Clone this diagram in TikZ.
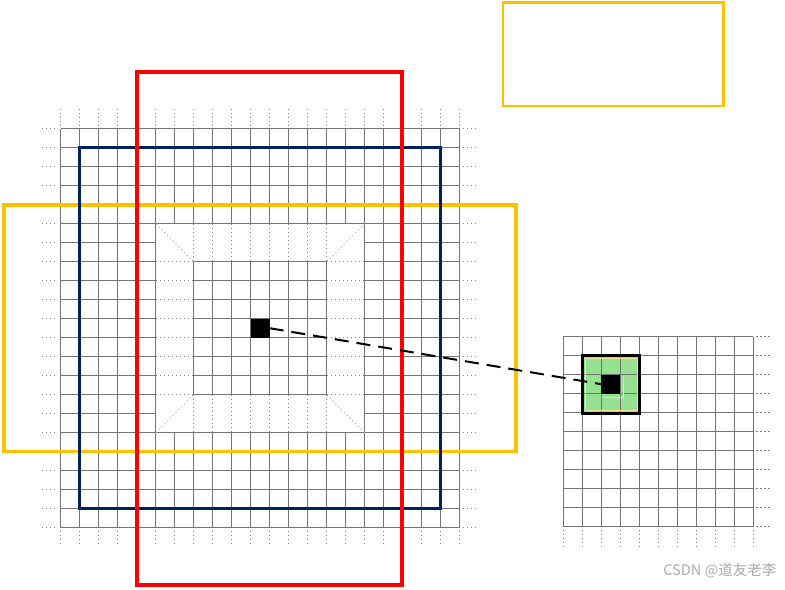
\documentclass[tikz,border=0pt]{standalone}
\usepackage{fontspec}
\newfontfamily\cjkfont{Noto Sans CJK SC}
\definecolor{gridgray}{RGB}{115,115,115}
\definecolor{dotgray}{RGB}{130,130,130}
\definecolor{lightdot}{RGB}{180,180,180}
\definecolor{redline}{RGB}{255,0,0}
\definecolor{navy}{RGB}{0,32,96}
\definecolor{gold}{RGB}{255,192,0}
\definecolor{paleGreen}{RGB}{150,224,145}
\definecolor{paleYellow}{RGB}{238,230,150}
\definecolor{wmgray}{RGB}{170,170,170}
\begin{document}
\begin{tikzpicture}[x=0.75pt,y=-0.75pt,
  gridline/.style={draw=gridgray,line width=0.6pt},
  tick/.style={draw=dotgray,line width=0.6pt,dash pattern=on 1.2pt off 1.8pt},
  banddot/.style={draw=dotgray,line width=0.55pt,dash pattern=on 1.2pt off 1.8pt},
  diagdot/.style={draw=lightdot,line width=0.55pt,dash pattern=on 1.2pt off 1.8pt},
  pixel/.style={fill=black,draw=none,minimum size=14.25pt,inner sep=0pt,outer sep=0pt},
  frame/.style={line width=#1},
  link/.style={draw=black,line width=1.5pt,dash pattern=on 10.5pt off 6pt}]
\useasboundingbox (0,0) rectangle (785,589);

% ---------------- left grid (21 x 21 cells) ----------------
\begin{scope}[shift={(60.7,128.7)},x=14.25pt,y=-14.25pt]
  \foreach \j in {0,...,5,16,17,...,21} {
    \draw[gridline] (0,\j) -- (21,\j);
    \draw[gridline] (\j,0) -- (\j,21);
  }
  \foreach \j in {6,...,15} {
    \draw[gridline] (0,\j) -- (5,\j) (16,\j) -- (21,\j);
    \draw[gridline] (\j,0) -- (\j,5) (\j,16) -- (\j,21);
  }
  \foreach \j in {7,...,14} {
    \draw[gridline] (7,\j) -- (14,\j) (\j,7) -- (\j,14);
    \draw[banddot] (5,\j) -- (7,\j) (14,\j) -- (16,\j);
    \draw[banddot] (\j,5) -- (\j,7) (\j,14) -- (\j,16);
  }
  \draw[diagdot] (5,5) -- (7,7) (16,5) -- (14,7) (5,16) -- (7,14) (16,16) -- (14,14);
  \foreach \j in {0,...,21} {
    \draw[tick] (\j,-1.05) -- (\j,-0.2) (\j,21.15) -- (\j,21.95);
    \draw[tick] (-1.0,\j) -- (-0.2,\j) (21.15,\j) -- (21.95,\j);
  }
  \node[pixel] (srcpix) at (10.5,10.5) {};
\end{scope}

% ---------------- right grid (10 x 10 cells) ----------------
\begin{scope}[shift={(563.3,336.7)},x=14.25pt,y=-14.25pt]
  \fill[paleGreen] (1,1) rectangle (4,4);
  \foreach \j in {0,...,10} {
    \draw[gridline] (0,\j) -- (10,\j);
    \draw[gridline] (\j,0) -- (\j,10);
    \draw[tick] (10.15,\j) -- (10.95,\j);
    \draw[tick] (\j,10.15) -- (\j,11.0);
  }
  \node[pixel] (dstpix) at (2.5,2.5) {};
\end{scope}
\draw[paleYellow,line width=0.9pt] (585.8,358.8) rectangle (637.2,410.8);
\draw[paleYellow,line width=0.9pt] (623.2,376.5) -- (623.2,397.6) -- (601.7,397.6);
\draw[black,frame=2.25pt] (582.3,355.7) rectangle (639.3,413);

% ---------------- coloured windows ----------------
\draw[gold,frame=2.5pt] (4,205) rectangle (516,451.7);
\draw[navy,frame=2.5pt] (79.7,147.7) rectangle (440.5,508.7);
\draw[redline,frame=3pt] (136.7,72) rectangle (401.5,584.7);
\draw[gold,frame=1.8pt] (502.7,2.7) rectangle (723.3,106.2);

% ---------------- link ----------------
\draw[link] (srcpix.east) -- (dstpix.west);

% ---------------- watermark ----------------
\node[anchor=west,inner sep=0pt,text=wmgray,font=\cjkfont\fontsize{10.9pt}{12pt}\selectfont] (wm) at (663,571) {CSDN @道友老李};
\end{tikzpicture}
\end{document}
